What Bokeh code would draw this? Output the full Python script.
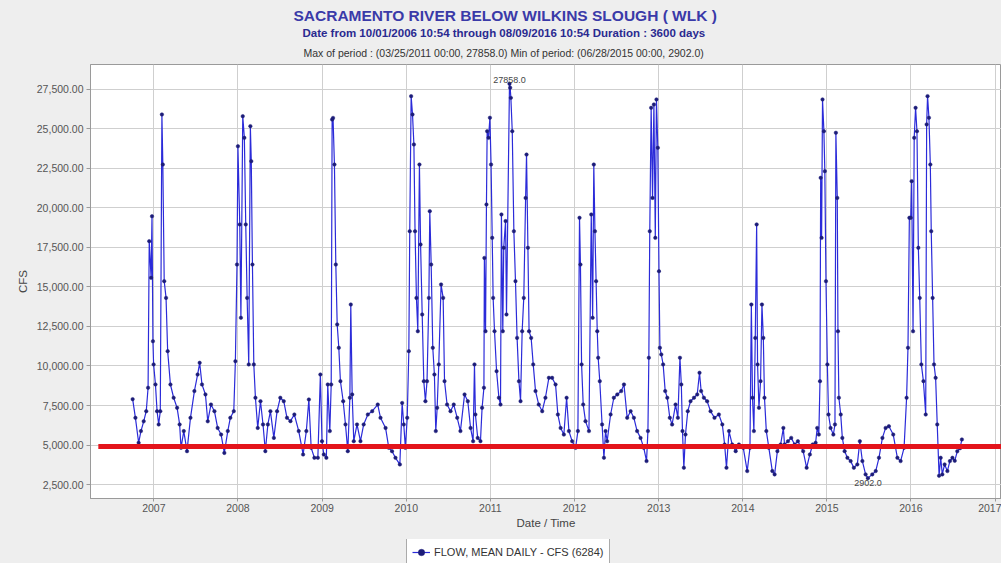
import pandas as pd
from bokeh.plotting import figure
from bokeh.layouts import column
from bokeh.models import (Range1d, FixedTicker, NumeralTickFormatter, DatetimeTickFormatter,
                          Title, Legend, LegendItem, ColumnDataSource)
from bokeh.core.properties import value
from bokeh.embed import file_html
from bokeh.resources import INLINE

# ---------------- data ----------------
START_DATE = "2006-10-01"          # day 0 of the period (Duration : 3600 days)

DAY_OFFSET = [
    # 2006-10 .. 2008-08
    0, 12, 26, 36, 48, 59, 67, 72, 80, 84,
    88, 91, 99, 106, 113, 120, 127, 131, 137, 145,
    152, 164, 178, 193, 204, 210, 222, 236, 251, 268,
    282, 291, 301, 316, 326, 340, 355, 369, 384, 398,
    413, 424, 439, 446, 453, 457, 465, 470, 478, 485,
    491, 497, 504, 511, 515, 520, 526, 533, 543, 555,
    566, 576, 587, 598, 613, 627, 641, 656, 670,
    # 2008-08 .. 2010-08
    685, 702, 721, 740, 754, 765, 775, 789, 804, 815,
    822, 830, 841, 847, 856, 862, 866, 870, 876, 882,
    888, 895, 902, 914, 924, 934, 943, 947, 953, 960,
    974, 989, 1003, 1021, 1040, 1064, 1076, 1098, 1112, 1126,
    1141, 1160, 1170, 1177, 1184, 1192, 1199, 1203, 1209, 1215,
    1221, 1226, 1232, 1238, 1245, 1250, 1257, 1264, 1271, 1278,
    1286, 1290, 1296, 1303, 1310, 1316, 1322, 1329, 1339, 1348,
    1354, 1365, 1380, 1394, 1409,
    # 2010-08 .. 2012-08
    1423, 1441, 1455, 1467, 1478, 1484, 1488, 1498, 1510, 1517,
    1525, 1527, 1532, 1536, 1539, 1545, 1551, 1556, 1561, 1565,
    1571, 1580, 1590, 1597, 1601, 1607, 1611, 1619, 1623, 1636,
    1639, 1642, 1648, 1655, 1662, 1669, 1677, 1684, 1691, 1698,
    1706, 1710, 1716, 1721, 1730, 1739, 1749, 1763, 1778, 1792,
    1807, 1821, 1836, 1846, 1858, 1872, 1884, 1894, 1908, 1923,
    1933, 1940, 1944, 1949, 1956, 1966, 1981, 1991, 1997, 2002,
    2007, 2012, 2017, 2021, 2028, 2038, 2046, 2053, 2060, 2075,
    2089, 2104, 2121, 2133, 2147,
    # 2012-08 .. 2014-08
    2162, 2176, 2190, 2205, 2219, 2231, 2237, 2241, 2245, 2251,
    2257, 2263, 2269, 2274, 2280, 2285, 2289, 2295, 2303, 2312,
    2321, 2332, 2342, 2357, 2367, 2376, 2382, 2387, 2393, 2400,
    2410, 2422, 2437, 2451, 2461, 2468, 2480, 2494, 2509, 2526,
    2545, 2560, 2570, 2578, 2589, 2603, 2618, 2632, 2651, 2668,
    2680, 2686, 2691, 2697, 2703, 2709, 2713, 2719, 2726, 2732,
    2738, 2743, 2751, 2762, 2777, 2787, 2799, 2813, 2825, 2830,
    2845, 2859, 2874, 2888,
    # 2014-08 .. 2016-08
    2911, 2926, 2940, 2952, 2965, 2972, 2979, 2984, 2987, 2991,
    2995, 3001, 3005, 3010, 3016, 3021, 3030, 3042, 3049, 3053,
    3059, 3062, 3066, 3074, 3081, 3091, 3103, 3117, 3131, 3146,
    3157, 3168, 3182, 3192, 3211, 3226, 3240, 3255, 3269, 3283,
    3302, 3320, 3334, 3349, 3360, 3366, 3372, 3378, 3382, 3388,
    3393, 3399, 3405, 3411, 3417, 3424, 3433, 3443, 3447, 3451,
    3457, 3463, 3467, 3473, 3479, 3486, 3493, 3501, 3508, 3515,
    3525, 3537, 3548, 3559, 3569, 3580, 3592, 3600,
]

FLOW_CFS = [
    7900, 6720, 5140, 5880, 6500, 7140, 8620, 17900, 15580, 19480,
    11570, 10100, 8830, 7140, 6300, 7140, 25920, 22750, 15370, 14310,
    10940, 8830, 7990, 7350, 6300, 4820, 5880, 4610, 6720, 8410,
    9460, 10200, 8830, 8200, 6500, 7560, 7140, 6080, 5660, 4500,
    5880, 6720, 7140, 10300, 16420, 23910, 18960, 13050, 25810, 24440,
    18960, 14310, 10100, 25180, 22960, 16420, 10100, 7990, 6080, 7770,
    6300, 4610, 6300, 7140, 5450, 7140, 7990, 7770, 6720,
    6510, 6930, 5880, 4400, 5880, 7880, 4820, 4190, 4190, 9460,
    5240, 4400, 4190, 8830, 5880, 8830, 25600, 25700, 22750, 16420,
    12630, 11150, 9040, 7770, 6300, 4610, 7990, 13890, 8200, 5240,
    6300, 5240, 6300, 6930, 7140, 7560, 6720, 6080, 4820, 4610,
    4190, 3770, 7660, 6300, 4820, 6720, 10940, 18530, 27080, 25920,
    24020, 18530, 14310, 12200, 22750, 17690, 13260, 9040, 7770, 9040,
    14310, 19800, 16420, 11150, 9460, 5880, 7350, 10100, 15160, 14310,
    9040, 7560, 7140, 7560, 6720,
    5880, 8200, 7770, 6080, 5240, 10100, 6930, 5450, 5240, 7350,
    8620, 16840, 12200, 20220, 24860, 24440, 25710, 22750, 18110, 14310,
    12200, 9670, 7990, 7560, 19590, 12200, 17480, 19170, 13260, 27858,
    27610, 26970, 24860, 18530, 15370, 11780, 9040, 7770, 12200, 14310,
    20640, 23380, 17480, 12200, 11780, 10100, 8410, 7560, 7140, 7990,
    9250, 9250, 8830, 6930, 6080, 5660, 7990, 5880, 5240, 4820,
    5880, 19380, 16420, 10100, 7560, 6510, 5880, 19590, 13050, 22750,
    18530, 15370, 12200, 10520, 9040, 6300, 4190, 5880, 5240, 6930,
    7990, 8200, 8410, 8830, 6720,
    7140, 6720, 5880, 5450, 4820, 3980, 5880, 10520, 18530, 26340,
    20640, 26550, 18110, 26870, 23810, 16000, 11150, 10730, 10100, 8410,
    7990, 6720, 6300, 7560, 6720, 10520, 8830, 5880, 3560, 5660,
    7140, 7770, 7990, 8200, 9570, 8410, 7990, 7770, 7140, 6720,
    6930, 6300, 5030, 3560, 5880, 5030, 4610, 5030, 4820, 3350,
    4820, 13890, 7990, 5880, 11780, 18960, 10100, 7350, 9040, 13890,
    11780, 7990, 5880, 4820, 3350, 3140, 4610, 5030, 6080, 5030,
    5240, 5450, 5030, 5240,
    4610, 3560, 4400, 5030, 5140, 6080, 5660, 9040, 21910, 18110,
    26870, 24860, 22330, 15370, 10100, 6930, 6080, 5660, 6300, 24760,
    20640, 12200, 7990, 6930, 5450, 4610, 4190, 3980, 3560, 3770,
    5240, 3980, 3140, 2902, 3140, 3350, 4190, 5450, 6080, 6190,
    5660, 4190, 3980, 4820, 7990, 11150, 19380, 19380, 21700, 12200,
    24440, 26340, 24860, 17480, 14310, 10100, 9040, 6930, 25290, 27080,
    25710, 22750, 18530, 14310, 10100, 9250, 6300, 3050, 4190, 3140,
    3770, 3350, 3980, 4190, 4000, 4600, 4800, 5350,
]

YEAR_TICKS = list(range(2007, 2018))
Y_TICKS = [2500, 5000, 7500, 10000, 12500, 15000, 17500, 20000, 22500, 25000, 27500]
THRESHOLD_CFS = 4900
THRESHOLD_DATES = ["2006-05-05", "2017-06-01"]
X_LIMITS = ["2006-04-01", "2017-01-28"]
Y_LIMITS = [1614, 29082]

TITLE = "SACRAMENTO RIVER BELOW WILKINS SLOUGH ( WLK )"
SUBTITLE = "Date from 10/01/2006 10:54 through 08/09/2016 10:54 Duration : 3600 days"
INFO = "Max of period : (03/25/2011 00:00, 27858.0)  Min of period: (06/28/2015 00:00,  2902.0)"
LEGEND_LABEL = "FLOW, MEAN DAILY - CFS (6284)"

assert len(DAY_OFFSET) == len(FLOW_CFS)

FONT = "Liberation Sans"
PANEL_BG = "#eeeeee"
LINE_STYLE = dict(line_color="#2b2bd9", line_width=1.2)
DOT_STYLE = dict(size=3.5, fill_color="#1c1c78", line_color="#1c1c78", line_width=0.5)

dates = pd.Timestamp(START_DATE) + pd.to_timedelta(DAY_OFFSET, unit="D")
src = ColumnDataSource(dict(date=dates, flow=FLOW_CFS))

p = figure(frame_width=911, frame_height=434, x_axis_type="datetime",
           output_backend="svg", toolbar_location=None,
           x_range=Range1d(pd.Timestamp(X_LIMITS[0]), pd.Timestamp(X_LIMITS[1])),
           y_range=Range1d(Y_LIMITS[0], Y_LIMITS[1]),
           min_border_left=90, min_border_right=0, min_border_top=64, min_border_bottom=41,
           background_fill_color="white", border_fill_color=PANEL_BG)
p.outline_line_color = "#9a9a9a"

# header: p.title is outermost; titles added later via add_layout stack outward from the frame
p.title.text = TITLE
p.title.align = "left"
p.title.offset = 203
p.title.standoff = 2
p.title.text_font = FONT
p.title.text_font_size = "15.5px"
p.title.text_font_style = "bold"
p.title.text_color = "#3a3aa8"
p.add_layout(Title(text=INFO, align="left", offset=213, standoff=12, text_font=FONT,
                   text_font_size="10.5px", text_font_style="normal", text_color="#333333"), "above")
p.add_layout(Title(text=SUBTITLE, align="left", offset=212, standoff=0, text_font=FONT,
                   text_font_size="11.5px", text_font_style="bold", text_color="#2a2a90"), "above")

# axes
p.xaxis.ticker = FixedTicker(ticks=[pd.Timestamp(f"{y}-01-01").timestamp() * 1000 for y in YEAR_TICKS])
p.xaxis.formatter = DatetimeTickFormatter(years="%Y", months="%Y", days="%Y", hours="%Y",
                                          minutes="%Y", seconds="%Y", milliseconds="%Y")
p.yaxis.ticker = FixedTicker(ticks=Y_TICKS)
p.yaxis.formatter = NumeralTickFormatter(format="0,0.00")

for ax in (p.xaxis[0], p.yaxis[0]):
    ax.major_label_text_font = FONT
    ax.major_label_text_font_size = "10.5px"
    ax.major_label_text_color = "#555555"
    ax.axis_label_text_font = FONT
    ax.axis_label_text_font_size = "11.5px"
    ax.axis_label_text_font_style = "normal"
    ax.axis_label_text_color = "#444444"
    ax.axis_line_color = "#9a9a9a"
    ax.major_tick_line_color = "#9a9a9a"
    ax.major_tick_in = 0
    ax.minor_tick_line_color = None

p.xaxis.axis_label = "Date / Time"
p.xaxis.major_tick_out = 3
p.xaxis.major_label_standoff = 2
p.xaxis.axis_label_standoff = 2
p.yaxis.axis_label = "CFS"
p.yaxis.major_tick_out = 4
p.yaxis.major_label_standoff = 3
p.yaxis.axis_label_standoff = 5

p.grid.grid_line_color = "#cfcfcf"
p.grid.grid_line_width = 1

# data series
p.line("date", "flow", source=src, **LINE_STYLE)
p.scatter("date", "flow", source=src, **DOT_STYLE)

# threshold line
p.line(x=[pd.Timestamp(d) for d in THRESHOLD_DATES], y=[THRESHOLD_CFS] * 2,
       line_color="#e3141b", line_width=5)

# max / min annotations
imax = FLOW_CFS.index(max(FLOW_CFS))
imin = FLOW_CFS.index(min(FLOW_CFS))
p.text(x=[dates[imax]], y=[FLOW_CFS[imax]], text=[f"{FLOW_CFS[imax]:.1f}"],
       text_align="center", text_baseline="bottom", y_offset=-1,
       text_font=value(FONT), text_font_size="9px", text_color="#444444")
p.text(x=[dates[imin]], y=[FLOW_CFS[imin]], text=[f"{FLOW_CFS[imin]:.1f}"],
       text_align="center", text_baseline="top", y_offset=2,
       text_font=value(FONT), text_font_size="9px", text_color="#444444")

# legend strip under the chart: its key renderers use the same series source and styles
# (the series lies outside this strip's ranges, so only the legend key is drawn)
leg = figure(width=1001, height=24, output_backend="svg", toolbar_location=None,
             x_range=Range1d(0, 1), y_range=Range1d(0, 1),
             x_axis_location=None, y_axis_location=None,
             min_border_left=0, min_border_right=0, min_border_top=0, min_border_bottom=0,
             background_fill_color=PANEL_BG, border_fill_color=PANEL_BG)
leg.outline_line_color = None
leg.grid.visible = False
key_line = leg.line("date", "flow", source=src, **LINE_STYLE)
key_dots = leg.scatter("date", "flow", source=src, **DOT_STYLE)
legend = Legend(items=[LegendItem(label=LEGEND_LABEL, renderers=[key_line, key_dots])],
                location=(316, -3), orientation="horizontal",
                label_text_font=FONT, label_text_font_size="11px", label_text_color="#333333",
                glyph_width=18, glyph_height=16, label_height=16, label_standoff=4,
                padding=5, spacing=0, margin=0,
                border_line_color="#555555", border_line_width=1,
                background_fill_color="white", background_fill_alpha=1.0)
leg.add_layout(legend)

layout = column(p, leg, spacing=0, styles={"background-color": PANEL_BG})
open("out.html", "w").write(file_html(layout, INLINE))
